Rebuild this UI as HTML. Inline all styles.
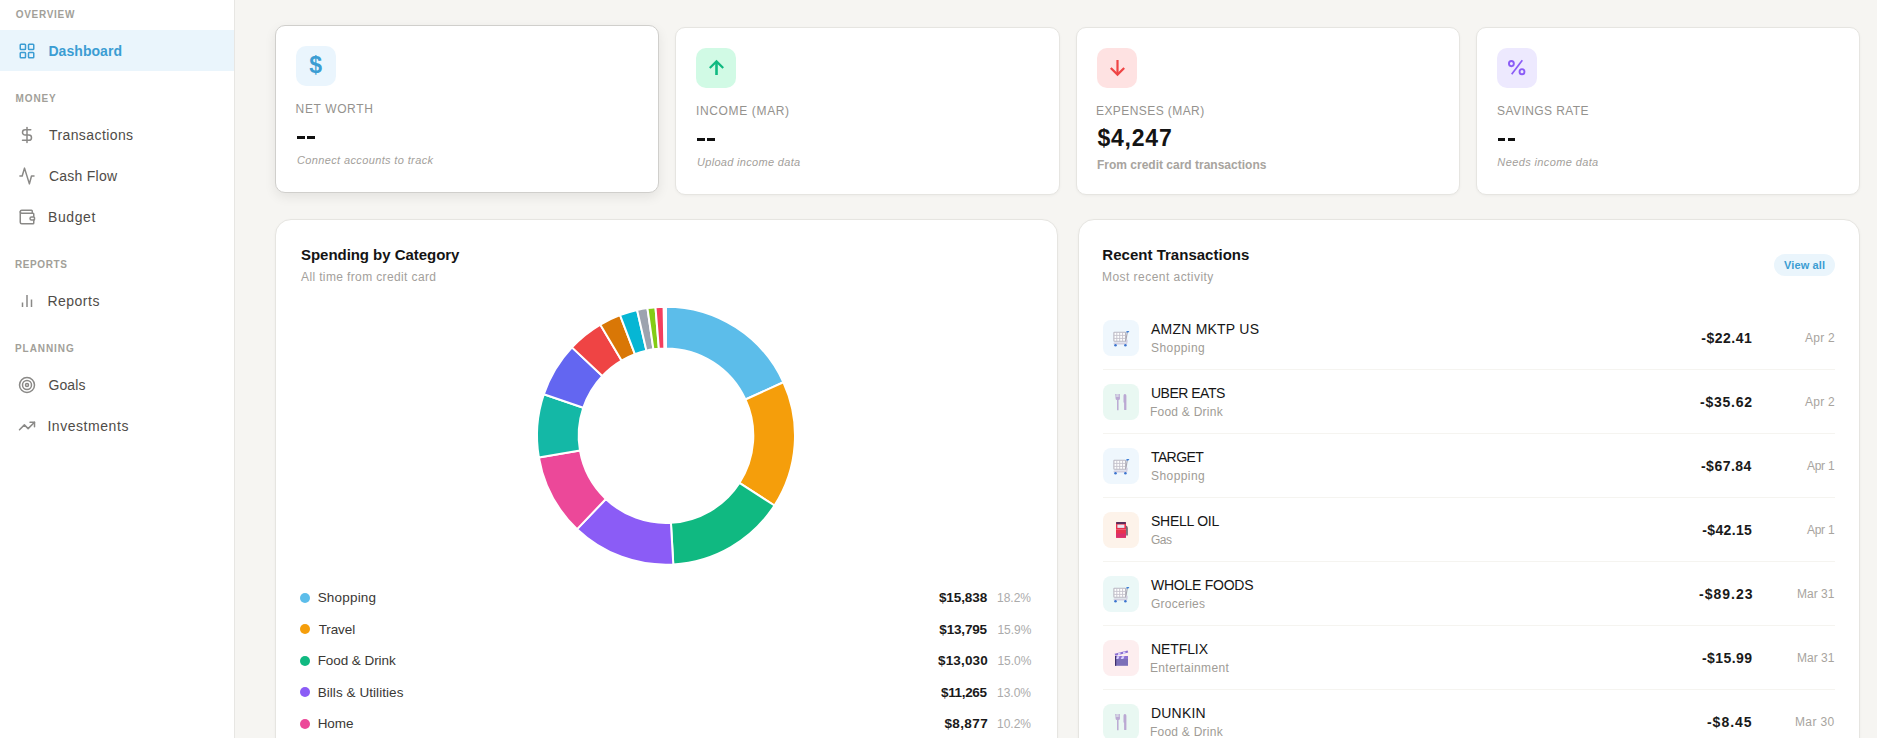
<!DOCTYPE html>
<html><head><meta charset="utf-8"><title>Dashboard</title><style>
*{box-sizing:border-box;margin:0;padding:0}
html,body{width:1877px;height:738px;overflow:hidden;background:#f6f5f2;font-family:"Liberation Sans",sans-serif}
.side{position:absolute;left:0;top:0;width:235px;height:738px;background:#fff;border-right:1px solid #e7e6e3}
.t{position:absolute;white-space:nowrap}
.ic{position:absolute;overflow:visible}
.card{position:absolute;background:#fff;border:1px solid #e6e5e1;border-radius:10px;box-shadow:0 1px 3px rgba(0,0,0,0.04)}
.card.hov{border-color:#d0cfcc;box-shadow:0 4px 12px rgba(0,0,0,0.08)}
.ibox{position:absolute;width:40px;height:40px;border-radius:10px}
.dash{position:absolute;width:7.4px;height:2.8px;background:#111}
.panel{position:absolute;background:#fff;border:1px solid #e6e5e1;border-radius:16px;box-shadow:0 1px 3px rgba(0,0,0,0.04)}
.tib{position:absolute;left:1102.5px;width:36px;height:36px;border-radius:8px}
.tib svg{position:absolute;left:0;top:0}
</style></head>
<body>
<div class="side"></div><div style="position:absolute;left:0;top:30px;width:234px;height:41px;background:#eaf5fc"></div><svg class="ic" style="left:18px;top:42px" width="18" height="18" viewBox="0 0 24 24" fill="none" stroke="#3b9dd3" stroke-width="2" stroke-linecap="round" stroke-linejoin="round"><rect width="7" height="7" x="3" y="3" rx="1"/><rect width="7" height="7" x="14" y="3" rx="1"/><rect width="7" height="7" x="14" y="14" rx="1"/><rect width="7" height="7" x="3" y="14" rx="1"/></svg><svg class="ic" style="left:18px;top:126px" width="18" height="18" viewBox="0 0 24 24" fill="none" stroke="#8a8987" stroke-width="2" stroke-linecap="round" stroke-linejoin="round"><line x1="12" x2="12" y1="2" y2="22"/><path d="M17 5H9.5a3.5 3.5 0 0 0 0 7h5a3.5 3.5 0 0 1 0 7H6"/></svg><svg class="ic" style="left:0;top:0" width="60" height="200" viewBox="0 0 60 200" fill="none" stroke="#8a8987" stroke-width="1.5" stroke-linecap="round" stroke-linejoin="round"><polyline points="19.9,176 22.2,176 24.5,168.1 29.4,183.9 31.5,176 34,176"/></svg><svg class="ic" style="left:18px;top:208px" width="18" height="18" viewBox="0 0 24 24" fill="none" stroke="#8a8987" stroke-width="2" stroke-linecap="round" stroke-linejoin="round"><path d="M19 7V4a1 1 0 0 0-1-1H5a2 2 0 0 0 0 4h15a1 1 0 0 1 1 1v4h-3a2 2 0 0 0 0 4h3a1 1 0 0 0 1-1v-2a1 1 0 0 0-1-1"/><path d="M3 5v14a2 2 0 0 0 2 2h15a1 1 0 0 0 1-1v-4"/></svg><svg class="ic" style="left:18px;top:292px" width="18" height="18" viewBox="0 0 24 24" fill="none" stroke="#8a8987" stroke-width="2" stroke-linecap="round" stroke-linejoin="round"><g stroke-linecap="butt"><line x1="18" x2="18" y1="20" y2="10"/><line x1="12" x2="12" y1="20" y2="4"/><line x1="6" x2="6" y1="20" y2="14"/></g></svg><svg class="ic" style="left:18px;top:376px" width="18" height="18" viewBox="0 0 24 24" fill="none" stroke="#8a8987" stroke-width="2" stroke-linecap="round" stroke-linejoin="round"><circle cx="12" cy="12" r="10"/><circle cx="12" cy="12" r="6"/><circle cx="12" cy="12" r="2"/></svg><svg class="ic" style="left:18px;top:417px" width="18" height="18" viewBox="0 0 24 24" fill="none" stroke="#8a8987" stroke-width="2" stroke-linecap="round" stroke-linejoin="round"><polyline points="22 7 13.5 15.5 8.5 10.5 2 17"/><polyline points="16 7 22 7 22 13"/></svg>
<div class="card hov" style="left:275px;top:25px;width:384.25px;height:168px"></div><div class="card" style="left:675.25px;top:27px;width:384.25px;height:168px"></div><div class="card" style="left:1075.5px;top:27px;width:384.25px;height:168px"></div><div class="card" style="left:1475.75px;top:27px;width:384.25px;height:168px"></div><div class="ibox" style="left:296px;top:46px;background:#eaf5fd"></div><div class="ibox" style="left:696px;top:48px;background:#d1fae5"></div><div class="ibox" style="left:1096.5px;top:48px;background:#fee2e2"></div><div class="ibox" style="left:1497px;top:48px;background:#ede9fe"></div><div class="t" style="left:309.3px;top:52px;font-size:23px;line-height:26px;font-weight:700;color:#3b9dd3">$</div><svg class="ic" style="left:696px;top:48px" width="40" height="40" viewBox="0 0 40 40" fill="none" stroke="#10b981" stroke-linecap="butt" stroke-linejoin="miter"><line x1="20.5" y1="14" x2="20.5" y2="27" stroke-width="2.6"/><polyline points="13.8,20 20.5,13.4 27.2,20" stroke-width="2.2"/></svg><svg class="ic" style="left:1096.5px;top:48px" width="40" height="40" viewBox="0 0 40 40" fill="none" stroke="#ef4444" stroke-linecap="butt" stroke-linejoin="miter"><line x1="20.5" y1="12" x2="20.5" y2="26" stroke-width="2.2"/><polyline points="13.8,20 20.5,26.6 27.2,20" stroke-width="2.2"/></svg><svg class="ic" style="left:1497px;top:48px" width="40" height="40" viewBox="0 0 40 40" fill="none" stroke="#8b5cf6" stroke-width="1.9"><ellipse cx="14.4" cy="15.6" rx="2.45" ry="2.6"/><ellipse cx="25" cy="23.7" rx="2.45" ry="2.6"/><line x1="14.7" y1="26.3" x2="25.3" y2="12.2" stroke-width="1.7"/></svg><div class="dash" style="left:297.2px;top:136px"></div><div class="dash" style="left:307.2px;top:136px"></div><div class="dash" style="left:697.45px;top:138px"></div><div class="dash" style="left:707.45px;top:138px"></div><div class="dash" style="left:1497.95px;top:138px"></div><div class="dash" style="left:1507.95px;top:138px"></div>
<div class="panel" style="left:275px;top:219px;width:782.5px;height:560px"></div><div class="panel" style="left:1077.5px;top:219px;width:782.5px;height:560px"></div><div style="position:absolute;left:1774px;top:254px;width:61px;height:22px;border-radius:11px;background:#eaf5fc"></div><svg class="ic" style="left:0;top:0" width="1877" height="738"><path d="M666.000,306.700A129,129 0 0 1 783.404,382.246L745.452,399.525A87.3,87.3 0 0 0 666.000,348.400Z" fill="#5cbdea" stroke="#fff" stroke-width="2" stroke-linejoin="round"/><path d="M783.404,382.246A129,129 0 0 1 774.482,505.505L739.414,482.940A87.3,87.3 0 0 0 745.452,399.525Z" fill="#f59e0b" stroke="#fff" stroke-width="2" stroke-linejoin="round"/><path d="M774.482,505.505A129,129 0 0 1 673.291,564.494L670.934,522.860A87.3,87.3 0 0 0 739.414,482.940Z" fill="#10b981" stroke="#fff" stroke-width="2" stroke-linejoin="round"/><path d="M673.291,564.494A129,129 0 0 1 577.104,529.180L605.840,498.962A87.3,87.3 0 0 0 670.934,522.860Z" fill="#8b5cf6" stroke="#fff" stroke-width="2" stroke-linejoin="round"/><path d="M577.104,529.180A129,129 0 0 1 538.852,457.480L579.953,450.439A87.3,87.3 0 0 0 605.840,498.962Z" fill="#ec4899" stroke="#fff" stroke-width="2" stroke-linejoin="round"/><path d="M538.852,457.480A129,129 0 0 1 543.824,394.298L583.318,407.682A87.3,87.3 0 0 0 579.953,450.439Z" fill="#14b8a6" stroke="#fff" stroke-width="2" stroke-linejoin="round"/><path d="M543.824,394.298A129,129 0 0 1 571.963,347.393L602.361,375.939A87.3,87.3 0 0 0 583.318,407.682Z" fill="#6366f1" stroke="#fff" stroke-width="2" stroke-linejoin="round"/><path d="M571.963,347.393A129,129 0 0 1 600.334,324.664L621.561,360.557A87.3,87.3 0 0 0 602.361,375.939Z" fill="#ef4444" stroke="#fff" stroke-width="2" stroke-linejoin="round"/><path d="M600.334,324.664A129,129 0 0 1 620.023,315.172L634.885,354.133A87.3,87.3 0 0 0 621.561,360.557Z" fill="#d97706" stroke="#fff" stroke-width="2" stroke-linejoin="round"/><path d="M620.023,315.172A129,129 0 0 1 637.069,309.986L646.421,350.624A87.3,87.3 0 0 0 634.885,354.133Z" fill="#06b6d4" stroke="#fff" stroke-width="2" stroke-linejoin="round"/><path d="M637.069,309.986A129,129 0 0 1 647.423,308.045L653.428,349.310A87.3,87.3 0 0 0 646.421,350.624Z" fill="#9ca3af" stroke="#fff" stroke-width="2" stroke-linejoin="round"/><path d="M647.423,308.045A129,129 0 0 1 655.475,307.130L658.877,348.691A87.3,87.3 0 0 0 653.428,349.310Z" fill="#84cc16" stroke="#fff" stroke-width="2" stroke-linejoin="round"/><path d="M655.475,307.130A129,129 0 0 1 663.569,306.723L664.355,348.416A87.3,87.3 0 0 0 658.877,348.691Z" fill="#f43f5e" stroke="#fff" stroke-width="2" stroke-linejoin="round"/></svg><div style="position:absolute;left:300px;top:592.8px;width:10px;height:10px;border-radius:5px;background:#5cbdea"></div><div style="position:absolute;left:300px;top:624.2px;width:10px;height:10px;border-radius:5px;background:#f59e0b"></div><div style="position:absolute;left:300px;top:655.7px;width:10px;height:10px;border-radius:5px;background:#10b981"></div><div style="position:absolute;left:300px;top:687.1px;width:10px;height:10px;border-radius:5px;background:#8b5cf6"></div><div style="position:absolute;left:300px;top:718.6px;width:10px;height:10px;border-radius:5px;background:#ec4899"></div>
<div class="tib" style="top:320px;background:#eff7fd"><svg width="36" height="36" viewBox="0 0 36 36"><rect x="10.9" y="12.3" width="11.6" height="9" rx="0.5" fill="#fff" stroke="#b9b7c2" stroke-width="1.1"/><path d="M13.8 12.3v9M16.7 12.3v9M19.6 12.3v9M10.9 15.4h11.6M10.9 18.4h11.6" stroke="#c4c2cc" stroke-width="0.9"/><path d="M22.7 21.6 L24.4 11.6" stroke="#a9a7b2" stroke-width="1.1"/><path d="M23.6 10.9h2.8l-1 1.5h-2.2z" fill="#3f7fd6"/><path d="M23 19.8h1.6v3h-1.6z" fill="#cfcbe0"/><rect x="10.6" y="22.6" width="13.6" height="1.8" rx="0.5" fill="#d3d0e0"/><circle cx="12.5" cy="25.3" r="1.25" fill="#3b74cf"/><circle cx="22.4" cy="25.3" r="1.25" fill="#3b74cf"/></svg></div><div style="position:absolute;left:1102.5px;width:732px;top:369px;height:1px;background:#f5f4f0"></div><div class="tib" style="top:384px;background:#e9f8f2"><svg width="36" height="36" viewBox="0 0 36 36" fill="#bba9d3"><path d="M12.1 10h0.8v3h0.55v-3h0.8v3h0.55v-3h0.8v3h0.55v-3h0.8v4.4q0 1.5-1.4 1.7v9.7q0 0.5-0.5 0.5h-0.5q-0.5 0-0.5-0.5v-9.7q-1.45-0.2-1.45-1.7z"/><path d="M21.9 10.1 q1.5 0.3 1.5 1.6 v13.7 q0 0.5-0.5 0.5 h-1.3 q-0.5 0-0.5-0.5 v-6.6 q-0.6-0.2-0.6-0.8 v-6.2 q0-1.4 1.4-1.7z"/></svg></div><div style="position:absolute;left:1102.5px;width:732px;top:433px;height:1px;background:#f5f4f0"></div><div class="tib" style="top:448px;background:#eff7fd"><svg width="36" height="36" viewBox="0 0 36 36"><rect x="10.9" y="12.3" width="11.6" height="9" rx="0.5" fill="#fff" stroke="#b9b7c2" stroke-width="1.1"/><path d="M13.8 12.3v9M16.7 12.3v9M19.6 12.3v9M10.9 15.4h11.6M10.9 18.4h11.6" stroke="#c4c2cc" stroke-width="0.9"/><path d="M22.7 21.6 L24.4 11.6" stroke="#a9a7b2" stroke-width="1.1"/><path d="M23.6 10.9h2.8l-1 1.5h-2.2z" fill="#3f7fd6"/><path d="M23 19.8h1.6v3h-1.6z" fill="#cfcbe0"/><rect x="10.6" y="22.6" width="13.6" height="1.8" rx="0.5" fill="#d3d0e0"/><circle cx="12.5" cy="25.3" r="1.25" fill="#3b74cf"/><circle cx="22.4" cy="25.3" r="1.25" fill="#3b74cf"/></svg></div><div style="position:absolute;left:1102.5px;width:732px;top:497px;height:1px;background:#f5f4f0"></div><div class="tib" style="top:512px;background:#fdf3ea"><svg width="36" height="36" viewBox="0 0 36 36"><path d="M23 13.5 q1.8 0.8 1.8 2.5 v7.6 h-1.6z" fill="#6b6470"/><rect x="13" y="10" width="10" height="15.8" rx="1" fill="#e8334f"/><rect x="13" y="10" width="10" height="2" rx="1" fill="#5a2d5a"/><rect x="14.4" y="12.6" width="7" height="3.3" fill="#e6e9f2"/><rect x="13" y="17" width="10" height="0.6" fill="#f27c8e"/><rect x="13" y="21.5" width="10" height="4.3" fill="#d9306c"/></svg></div><div style="position:absolute;left:1102.5px;width:732px;top:561px;height:1px;background:#f5f4f0"></div><div class="tib" style="top:576px;background:#ebf8f7"><svg width="36" height="36" viewBox="0 0 36 36"><rect x="10.9" y="12.3" width="11.6" height="9" rx="0.5" fill="#fff" stroke="#b9b7c2" stroke-width="1.1"/><path d="M13.8 12.3v9M16.7 12.3v9M19.6 12.3v9M10.9 15.4h11.6M10.9 18.4h11.6" stroke="#c4c2cc" stroke-width="0.9"/><path d="M22.7 21.6 L24.4 11.6" stroke="#a9a7b2" stroke-width="1.1"/><path d="M23.6 10.9h2.8l-1 1.5h-2.2z" fill="#3f7fd6"/><path d="M23 19.8h1.6v3h-1.6z" fill="#cfcbe0"/><rect x="10.6" y="22.6" width="13.6" height="1.8" rx="0.5" fill="#d3d0e0"/><circle cx="12.5" cy="25.3" r="1.25" fill="#3b74cf"/><circle cx="22.4" cy="25.3" r="1.25" fill="#3b74cf"/></svg></div><div style="position:absolute;left:1102.5px;width:732px;top:625px;height:1px;background:#f5f4f0"></div><div class="tib" style="top:640px;background:#fdeeef"><svg width="36" height="36" viewBox="0 0 36 36"><rect x="12" y="18.5" width="13" height="7.3" fill="#7b70b8"/><rect x="12" y="16" width="13" height="3" fill="#8c6fd0"/><path d="M14 16.3h2.5l-1.2 2.6h-2.5zM19 16.3h2.5l-1.2 2.6h-2.5z" fill="#d9d2ff"/><path d="M11.6 13.8 L24.6 10.6 L25.2 12.6 L12.4 15.8z" fill="#8c6fd0"/><path d="M15 13.2l2.4-0.6 0.1 2-2.4 0.6zM20 12l2.4-0.6 0.1 2-2.4 0.6z" fill="#d9d2ff"/><rect x="12" y="16" width="1.2" height="9.8" fill="#3d2f6b"/></svg></div><div style="position:absolute;left:1102.5px;width:732px;top:689px;height:1px;background:#f5f4f0"></div><div class="tib" style="top:704px;background:#e9f8f2"><svg width="36" height="36" viewBox="0 0 36 36" fill="#bba9d3"><path d="M12.1 10h0.8v3h0.55v-3h0.8v3h0.55v-3h0.8v3h0.55v-3h0.8v4.4q0 1.5-1.4 1.7v9.7q0 0.5-0.5 0.5h-0.5q-0.5 0-0.5-0.5v-9.7q-1.45-0.2-1.45-1.7z"/><path d="M21.9 10.1 q1.5 0.3 1.5 1.6 v13.7 q0 0.5-0.5 0.5 h-1.3 q-0.5 0-0.5-0.5 v-6.6 q-0.6-0.2-0.6-0.8 v-6.2 q0-1.4 1.4-1.7z"/></svg></div>
<div class="t" id="s_ov" style="left:15.64px;top:7px;font-size:10px;line-height:16px;font-weight:700;font-style:normal;color:#a29f99;letter-spacing:0.726px;">OVERVIEW</div>
<div class="t" id="s_dash" style="left:48.42px;top:41px;font-size:14px;line-height:20px;font-weight:700;font-style:normal;color:#3b9dd3;letter-spacing:0.062px;">Dashboard</div>
<div class="t" id="s_money" style="left:15.60px;top:91px;font-size:10px;line-height:16px;font-weight:700;font-style:normal;color:#a29f99;letter-spacing:0.875px;">MONEY</div>
<div class="t" id="s_tx" style="left:48.95px;top:125px;font-size:14px;line-height:20px;font-weight:400;font-style:normal;color:#4f4c48;letter-spacing:0.413px;">Transactions</div>
<div class="t" id="s_cf" style="left:48.95px;top:166px;font-size:14px;line-height:20px;font-weight:400;font-style:normal;color:#4f4c48;letter-spacing:0.250px;">Cash Flow</div>
<div class="t" id="s_bud" style="left:47.95px;top:207px;font-size:14px;line-height:20px;font-weight:400;font-style:normal;color:#4f4c48;letter-spacing:0.600px;">Budget</div>
<div class="t" id="s_rep" style="left:15.00px;top:257px;font-size:10px;line-height:16px;font-weight:700;font-style:normal;color:#a29f99;letter-spacing:0.578px;">REPORTS</div>
<div class="t" id="s_reports" style="left:47.42px;top:291px;font-size:14px;line-height:20px;font-weight:400;font-style:normal;color:#4f4c48;letter-spacing:0.499px;">Reports</div>
<div class="t" id="s_plan" style="left:15.00px;top:341px;font-size:10px;line-height:16px;font-weight:700;font-style:normal;color:#a29f99;letter-spacing:0.924px;">PLANNING</div>
<div class="t" id="s_goals" style="left:48.42px;top:375px;font-size:14px;line-height:20px;font-weight:400;font-style:normal;color:#4f4c48;letter-spacing:0.125px;">Goals</div>
<div class="t" id="s_inv" style="left:47.42px;top:416px;font-size:14px;line-height:20px;font-weight:400;font-style:normal;color:#4f4c48;letter-spacing:0.550px;">Investments</div>
<div class="t" id="c1_l" style="left:295.60px;top:100px;font-size:12px;line-height:18px;font-weight:400;font-style:normal;color:#94928e;letter-spacing:0.625px;">NET WORTH</div>
<div class="t" id="c2_l" style="left:696.00px;top:102px;font-size:12px;line-height:18px;font-weight:400;font-style:normal;color:#94928e;letter-spacing:0.645px;">INCOME (MAR)</div>
<div class="t" id="c3_l" style="left:1095.98px;top:102px;font-size:12px;line-height:18px;font-weight:400;font-style:normal;color:#94928e;letter-spacing:0.427px;">EXPENSES (MAR)</div>
<div class="t" id="c4_l" style="left:1497.00px;top:102px;font-size:12px;line-height:18px;font-weight:400;font-style:normal;color:#94928e;letter-spacing:0.422px;">SAVINGS RATE</div>
<div class="t" id="c3_v" style="left:1097.42px;top:124px;font-size:23px;line-height:29px;font-weight:700;font-style:normal;color:#141414;letter-spacing:0.800px;">$4,247</div>
<div class="t" id="c1_s" style="left:296.98px;top:152px;font-size:11px;line-height:17px;font-weight:400;font-style:italic;color:#a3a09b;letter-spacing:0.369px;">Connect accounts to track</div>
<div class="t" id="c2_s" style="left:697.00px;top:154px;font-size:11px;line-height:17px;font-weight:400;font-style:italic;color:#a3a09b;letter-spacing:0.312px;">Upload income data</div>
<div class="t" id="c4_s" style="left:1497.32px;top:154px;font-size:11px;line-height:17px;font-weight:400;font-style:italic;color:#a3a09b;letter-spacing:0.384px;">Needs income data</div>
<div class="t" id="c3_s" style="left:1097.00px;top:156px;font-size:12px;line-height:18px;font-weight:700;font-style:normal;color:#a8a49e;letter-spacing:0.000px;">From credit card transactions</div>
<div class="t" id="p1_t" style="left:301.00px;top:244px;font-size:15px;line-height:21px;font-weight:700;font-style:normal;color:#141414;letter-spacing:-0.042px;">Spending by Category</div>
<div class="t" id="p1_s" style="left:301.00px;top:268px;font-size:12px;line-height:18px;font-weight:400;font-style:normal;color:#a3a09b;letter-spacing:0.374px;">All time from credit card</div>
<div class="t" id="p2_t" style="left:1102.32px;top:244px;font-size:15px;line-height:21px;font-weight:700;font-style:normal;color:#141414;letter-spacing:0.020px;">Recent Transactions</div>
<div class="t" id="p2_s" style="left:1102.00px;top:268px;font-size:12px;line-height:18px;font-weight:400;font-style:normal;color:#a3a09b;letter-spacing:0.456px;">Most recent activity</div>
<div class="t" id="p2_va" style="left:1783.95px;top:257px;font-size:11px;line-height:17px;font-weight:700;font-style:normal;color:#3b9dd3;letter-spacing:0.134px;">View all</div>
<div class="t" id="lg0_n" style="left:317.64px;top:588px;font-size:13.5px;line-height:20px;font-weight:400;font-style:normal;color:#3a3835;letter-spacing:0.202px;">Shopping</div>
<div class="t" id="lg0_a" style="left:938.95px;top:588px;font-size:13.5px;line-height:20px;font-weight:700;font-style:normal;color:#1a1a1a;letter-spacing:-0.089px;">$15,838</div>
<div class="t" id="lg0_p" style="left:996.98px;top:589px;font-size:12px;line-height:18px;font-weight:400;font-style:normal;color:#ababab;letter-spacing:-0.000px;">18.2%</div>
<div class="t" id="lg1_n" style="left:318.64px;top:620px;font-size:13.5px;line-height:20px;font-weight:400;font-style:normal;color:#3a3835;letter-spacing:-0.100px;">Travel</div>
<div class="t" id="lg1_a" style="left:939.32px;top:620px;font-size:13.5px;line-height:20px;font-weight:700;font-style:normal;color:#1a1a1a;letter-spacing:-0.167px;">$13,795</div>
<div class="t" id="lg1_p" style="left:997.42px;top:621px;font-size:12px;line-height:18px;font-weight:400;font-style:normal;color:#ababab;letter-spacing:0.000px;">15.9%</div>
<div class="t" id="lg2_n" style="left:317.64px;top:651px;font-size:13.5px;line-height:20px;font-weight:400;font-style:normal;color:#3a3835;letter-spacing:-0.058px;">Food &amp; Drink</div>
<div class="t" id="lg2_a" style="left:938.00px;top:651px;font-size:13.5px;line-height:20px;font-weight:700;font-style:normal;color:#1a1a1a;letter-spacing:0.158px;">$13,030</div>
<div class="t" id="lg2_p" style="left:997.42px;top:652px;font-size:12px;line-height:18px;font-weight:400;font-style:normal;color:#ababab;letter-spacing:0.000px;">15.0%</div>
<div class="t" id="lg3_n" style="left:317.64px;top:683px;font-size:13.5px;line-height:20px;font-weight:400;font-style:normal;color:#3a3835;letter-spacing:0.062px;">Bills &amp; Utilities</div>
<div class="t" id="lg3_a" style="left:941.00px;top:683px;font-size:13.5px;line-height:20px;font-weight:700;font-style:normal;color:#1a1a1a;letter-spacing:-0.342px;">$11,265</div>
<div class="t" id="lg3_p" style="left:996.98px;top:684px;font-size:12px;line-height:18px;font-weight:400;font-style:normal;color:#ababab;letter-spacing:-0.000px;">13.0%</div>
<div class="t" id="lg4_n" style="left:317.64px;top:714px;font-size:13.5px;line-height:20px;font-weight:400;font-style:normal;color:#3a3835;letter-spacing:-0.009px;">Home</div>
<div class="t" id="lg4_a" style="left:944.42px;top:714px;font-size:13.5px;line-height:20px;font-weight:700;font-style:normal;color:#1a1a1a;letter-spacing:0.400px;">$8,877</div>
<div class="t" id="lg4_p" style="left:996.98px;top:715px;font-size:12px;line-height:18px;font-weight:400;font-style:normal;color:#ababab;letter-spacing:-0.000px;">10.2%</div>
<div class="t" id="tx0_n" style="left:1150.98px;top:319px;font-size:14px;line-height:20px;font-weight:400;font-style:normal;color:#161616;letter-spacing:0.225px;">AMZN MKTP US</div>
<div class="t" id="tx0_c" style="left:1150.98px;top:339px;font-size:12px;line-height:18px;font-weight:400;font-style:normal;color:#a09c96;letter-spacing:0.437px;">Shopping</div>
<div class="t" id="tx0_a" style="left:1701.32px;top:328px;font-size:14px;line-height:20px;font-weight:700;font-style:normal;color:#1a1a1a;letter-spacing:0.505px;">-$22.41</div>
<div class="t" id="tx0_d" style="left:1804.98px;top:329px;font-size:12px;line-height:18px;font-weight:400;font-style:normal;color:#a8a49e;letter-spacing:0.250px;">Apr 2</div>
<div class="t" id="tx1_n" style="left:1150.98px;top:383px;font-size:14px;line-height:20px;font-weight:400;font-style:normal;color:#161616;letter-spacing:-0.500px;">UBER EATS</div>
<div class="t" id="tx1_c" style="left:1149.98px;top:403px;font-size:12px;line-height:18px;font-weight:400;font-style:normal;color:#a09c96;letter-spacing:0.240px;">Food &amp; Drink</div>
<div class="t" id="tx1_a" style="left:1700.00px;top:392px;font-size:14px;line-height:20px;font-weight:700;font-style:normal;color:#1a1a1a;letter-spacing:0.747px;">-$35.62</div>
<div class="t" id="tx1_d" style="left:1804.98px;top:393px;font-size:12px;line-height:18px;font-weight:400;font-style:normal;color:#a8a49e;letter-spacing:0.250px;">Apr 2</div>
<div class="t" id="tx2_n" style="left:1150.98px;top:447px;font-size:14px;line-height:20px;font-weight:400;font-style:normal;color:#161616;letter-spacing:-0.600px;">TARGET</div>
<div class="t" id="tx2_c" style="left:1150.98px;top:467px;font-size:12px;line-height:18px;font-weight:400;font-style:normal;color:#a09c96;letter-spacing:0.437px;">Shopping</div>
<div class="t" id="tx2_a" style="left:1700.95px;top:456px;font-size:14px;line-height:20px;font-weight:700;font-style:normal;color:#1a1a1a;letter-spacing:0.497px;">-$67.84</div>
<div class="t" id="tx2_d" style="left:1806.95px;top:457px;font-size:12px;line-height:18px;font-weight:400;font-style:normal;color:#a8a49e;letter-spacing:-0.250px;">Apr 1</div>
<div class="t" id="tx3_n" style="left:1150.98px;top:511px;font-size:14px;line-height:20px;font-weight:400;font-style:normal;color:#161616;letter-spacing:-0.250px;">SHELL OIL</div>
<div class="t" id="tx3_c" style="left:1150.98px;top:531px;font-size:12px;line-height:18px;font-weight:400;font-style:normal;color:#a09c96;letter-spacing:-0.500px;">Gas</div>
<div class="t" id="tx3_a" style="left:1702.32px;top:520px;font-size:14px;line-height:20px;font-weight:700;font-style:normal;color:#1a1a1a;letter-spacing:0.338px;">-$42.15</div>
<div class="t" id="tx3_d" style="left:1806.95px;top:521px;font-size:12px;line-height:18px;font-weight:400;font-style:normal;color:#a8a49e;letter-spacing:-0.250px;">Apr 1</div>
<div class="t" id="tx4_n" style="left:1150.98px;top:575px;font-size:14px;line-height:20px;font-weight:400;font-style:normal;color:#161616;letter-spacing:-0.250px;">WHOLE FOODS</div>
<div class="t" id="tx4_c" style="left:1150.98px;top:595px;font-size:12px;line-height:18px;font-weight:400;font-style:normal;color:#a09c96;letter-spacing:0.250px;">Groceries</div>
<div class="t" id="tx4_a" style="left:1698.98px;top:584px;font-size:14px;line-height:20px;font-weight:700;font-style:normal;color:#1a1a1a;letter-spacing:1.000px;">-$89.23</div>
<div class="t" id="tx4_d" style="left:1797.00px;top:585px;font-size:12px;line-height:18px;font-weight:400;font-style:normal;color:#a8a49e;letter-spacing:-0.000px;">Mar 31</div>
<div class="t" id="tx5_n" style="left:1150.98px;top:639px;font-size:14px;line-height:20px;font-weight:400;font-style:normal;color:#161616;letter-spacing:-0.092px;">NETFLIX</div>
<div class="t" id="tx5_c" style="left:1149.98px;top:659px;font-size:12px;line-height:18px;font-weight:400;font-style:normal;color:#a09c96;letter-spacing:0.340px;">Entertainment</div>
<div class="t" id="tx5_a" style="left:1701.98px;top:648px;font-size:14px;line-height:20px;font-weight:700;font-style:normal;color:#1a1a1a;letter-spacing:0.415px;">-$15.99</div>
<div class="t" id="tx5_d" style="left:1797.00px;top:649px;font-size:12px;line-height:18px;font-weight:400;font-style:normal;color:#a8a49e;letter-spacing:-0.000px;">Mar 31</div>
<div class="t" id="tx6_n" style="left:1150.98px;top:703px;font-size:14px;line-height:20px;font-weight:400;font-style:normal;color:#161616;letter-spacing:0.200px;">DUNKIN</div>
<div class="t" id="tx6_c" style="left:1149.98px;top:723px;font-size:12px;line-height:18px;font-weight:400;font-style:normal;color:#a09c96;letter-spacing:0.240px;">Food &amp; Drink</div>
<div class="t" id="tx6_a" style="left:1706.95px;top:712px;font-size:14px;line-height:20px;font-weight:700;font-style:normal;color:#1a1a1a;letter-spacing:1.000px;">-$8.45</div>
<div class="t" id="tx6_d" style="left:1794.95px;top:713px;font-size:12px;line-height:18px;font-weight:400;font-style:normal;color:#a8a49e;letter-spacing:0.400px;">Mar 30</div>
</body></html>
